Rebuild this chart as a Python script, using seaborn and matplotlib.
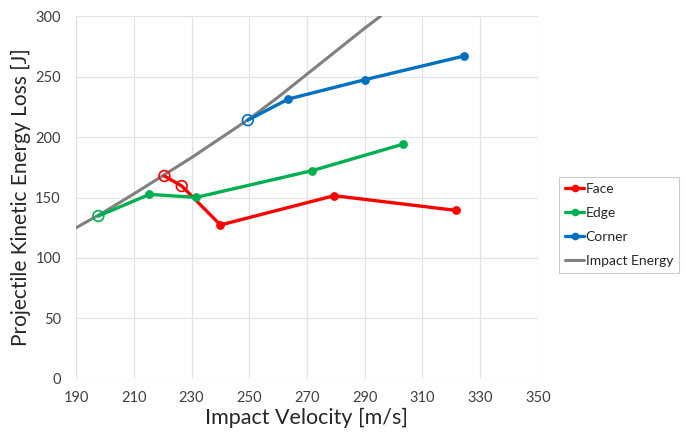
import matplotlib
matplotlib.use("Agg")
import matplotlib.pyplot as plt
import seaborn as sns
import pandas as pd
from matplotlib.lines import Line2D

# Data
face_v = [220.6, 226.6, 240.0, 279.4, 321.5]
face_e = [167.8, 159.5, 127.3, 151.5, 139.4]
face_open = [True, True, False, False, False]

edge_v = [197.7, 215.4, 231.6, 271.6, 303.4]
edge_e = [134.7, 152.6, 150.1, 172.1, 194.2]
edge_open = [True, False, False, False, False]

corner_v = [249.5, 263.5, 290.0, 324.4]
corner_e = [214.0, 231.4, 247.4, 267.0]
corner_open = [True, False, False, False]

impact_v = [190, 200, 210, 220, 230, 240, 250, 260, 270, 280, 290, 295.5]
impact_e = [125, 138.5, 153, 168, 183, 199, 215, 233, 252, 271, 290, 300]

x_ticks = [190, 210, 230, 250, 270, 290, 310, 330, 350]
y_ticks = [0, 50, 100, 150, 200, 250, 300]

colors = {"Face": "#FF0000", "Edge": "#00B050", "Corner": "#0070C0", "Impact Energy": "#808080"}

sns.set_theme(style="white")
plt.rcParams["font.family"] = ["Lato", "DejaVu Sans"]

fig = plt.figure(figsize=(6.86, 4.36), dpi=100)
ax = fig.add_axes([0.111, 0.131, 0.673, 0.832])

imp = pd.DataFrame({"v": impact_v, "e": impact_e})
sns.lineplot(data=imp, x="v", y="e", ax=ax, color=colors["Impact Energy"], lw=2.2,
             sort=False, zorder=2)

for name, vs, es, op in [("Face", face_v, face_e, face_open),
                         ("Edge", edge_v, edge_e, edge_open),
                         ("Corner", corner_v, corner_e, corner_open)]:
    df = pd.DataFrame({"v": vs, "e": es, "open": op})
    c = colors[name]
    sns.lineplot(data=df, x="v", y="e", ax=ax, color=c, lw=2.4, sort=False, zorder=3)
    filled = df[~df["open"]]
    hollow = df[df["open"]]
    sns.scatterplot(data=filled, x="v", y="e", ax=ax, color=c, s=40, edgecolor=c,
                    linewidth=0, zorder=4)
    sns.scatterplot(data=hollow, x="v", y="e", ax=ax, facecolor="none", edgecolor=c,
                    s=60, linewidth=1.2, zorder=4)

ax.set_xlim(190, 350)
ax.set_ylim(0, 300)
ax.set_xticks(x_ticks)
ax.set_yticks(y_ticks)
ax.grid(True, color="#E3E3E3", lw=0.9)
for s in ax.spines.values():
    s.set_visible(False)
ax.tick_params(axis="x", labelsize=10.5, colors="#404040", length=0, pad=9)
ax.tick_params(axis="y", labelsize=10.5, colors="#404040", length=0, pad=11)
ax.set_xlabel("Impact Velocity [m/s]", fontsize=15.5, color="#262626", labelpad=2)
ax.set_ylabel("Projectile Kinetic Energy Loss [J]", fontsize=15, color="#262626", labelpad=3)

handles = []
for name in ["Face", "Edge", "Corner"]:
    handles.append(Line2D([0], [0], color=colors[name], lw=2.4, marker="o", markersize=4.5))
handles.append(Line2D([0], [0], color=colors["Impact Energy"], lw=2.2))
leg = fig.legend(handles, ["Face", "Edge", "Corner", "Impact Energy"],
                 loc="upper left", bbox_to_anchor=(559 / 686, 1 - 177 / 436),
                 fontsize=10, frameon=True, fancybox=False, handlelength=1.35,
                 handletextpad=0.12, labelspacing=0.85, borderpad=0.45,
                 borderaxespad=0)
leg.get_frame().set_edgecolor("#BFBFBF")
leg.get_frame().set_linewidth(0.8)
for t in leg.get_texts():
    t.set_color("#262626")

fig.savefig("out.png", dpi=100)
